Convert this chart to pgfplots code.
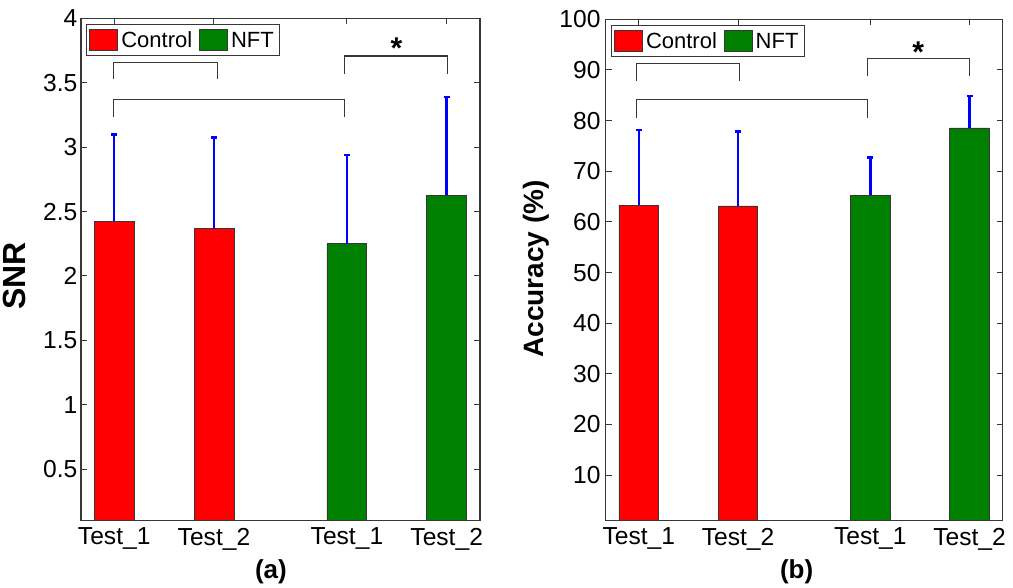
\documentclass[border=0pt]{standalone}
\usepackage{fontspec}
\setmainfont{Liberation Sans}
\usepackage{pgfplots}
\pgfplotsset{compat=1.18}
\definecolor{mred}{RGB}{255,0,0}
\definecolor{mgreen}{RGB}{0,128,0}
\definecolor{axgray}{RGB}{55,55,55}
\pgfplotsset{
  panel/.style={
    scale only axis,
    xmin=0.667, xmax=4.667,
    xtick={1,2,3.333,4.333},
    xticklabels={Test\_1,Test\_2,Test\_1,Test\_2},
    tick align=inside,
    major tick length=6pt,
    minor tick num=0,
    tick style={axgray, line width=1pt},
    axis line style={axgray, line width=1.3pt},
    /pgf/number format/assume math mode=true,
    ticklabel style={font=\fontsize{24.6}{28}\selectfont},
    xticklabel style={inner sep=0pt, yshift=-7pt},
    legend style={at={(0,1)}, anchor=north west, xshift=5pt, yshift=-6pt,
      draw=axgray, line width=1pt, inner xsep=3pt, inner ysep=4.5pt,
      font=\fontsize{22}{24}\selectfont,
      nodes={inner xsep=3pt, inner ysep=1pt},
      /tikz/every even column/.append style={column sep=4pt}},
    legend columns=2,
    legend cell align=left,
  },
  redimg/.style={legend image code/.code={\draw[fill=mred, draw=axgray, line width=0.8pt] (0pt,-10.5pt) rectangle (28pt,10.5pt);}},
  greenimg/.style={legend image code/.code={\draw[fill=mgreen, draw=axgray, line width=0.8pt] (0pt,-10.5pt) rectangle (28pt,10.5pt);}},
  barstyle/.style={ybar, bar width=0.4, bar shift=0pt, draw=axgray, line width=0.8pt, forget plot,
    error bars/y dir=plus, error bars/y explicit,
    error bars/error bar style={blue, line width=2.5pt},
    error bars/error mark options={blue, line width=2.5pt, mark size=3pt, rotate=90}},
  brk/.style={axgray, line width=1.3pt, sharp plot, no marks, forget plot},
}
\begin{document}
\begin{tikzpicture}
\path (0pt,0pt) rectangle (1013pt,-585pt);
% ---------------- panel (a)
\begin{axis}[panel,
  at={(81pt,-520.7pt)}, anchor=south west,
  width=399pt, height=502.4pt,
  ymin=0.1, ymax=4,
  ytick={0.5,1,1.5,2,2.5,3,3.5,4},
  yticklabel style={inner sep=0pt, xshift=-3.5pt},
  ylabel={SNR},
  every axis y label/.style={at={(axis description cs:-0.166,0.487)}, rotate=90, anchor=center,
    font=\bfseries\fontsize{32}{34}\selectfont},
  xlabel={(a)},
  every axis x label/.style={at={(axis description cs:0.476,-0.1015)}, anchor=center,
    font=\bfseries\fontsize{26}{28}\selectfont},
]
\addlegendimage{redimg}
\addlegendentry{Control}
\addlegendimage{greenimg}
\addlegendentry{NFT}
\addplot[barstyle, fill=mred] coordinates {(1,2.424) +- (0,0.674) (2,2.367) +- (0,0.708)};
\addplot[barstyle, fill=mgreen] coordinates {(3.333,2.250) +- (0,0.690) (4.333,2.626) +- (0,0.762)};
\addplot[brk] coordinates {(0.99,3.526) (0.99,3.657) (2.037,3.657) (2.037,3.526)};
\addplot[brk] coordinates {(3.306,3.567) (3.306,3.707) (4.338,3.707) (4.338,3.567)};
\addplot[brk] coordinates {(0.99,3.23) (0.99,3.37) (3.31,3.37) (3.31,3.23)};
\node[font=\bfseries\fontsize{30}{32}\selectfont, anchor=north, inner sep=0pt] at (axis cs:3.83,3.849) {*};
\end{axis}
% ---------------- panel (b)
\begin{axis}[panel,
  at={(605.7pt,-520.7pt)}, anchor=south west,
  width=397pt, height=501.4pt,
  ymin=1, ymax=100,
  ytick={10,20,30,40,50,60,70,80,90,100},
  yticklabel style={inner sep=0pt, xshift=-5pt},
  ylabel={Accuracy (\%)},
  every axis y label/.style={at={(axis description cs:-0.176,0.502)}, rotate=90, anchor=center,
    font=\bfseries\fontsize{28}{30}\selectfont},
  xlabel={(b)},
  every axis x label/.style={at={(axis description cs:0.481,-0.1017)}, anchor=center,
    font=\bfseries\fontsize{26}{28}\selectfont},
]
\addlegendimage{redimg}
\addlegendentry{Control}
\addlegendimage{greenimg}
\addlegendentry{NFT}
\addplot[barstyle, fill=mred] coordinates {(1,63.30) +- (0,14.85) (2,63.15) +- (0,14.65)};
\addplot[barstyle, fill=mgreen] coordinates {(3.333,65.26) +- (0,7.44) (4.333,78.55) +- (0,6.35)};
\addplot[brk] coordinates {(0.974,87.8) (0.974,91.3) (2.018,91.3) (2.018,87.8)};
\addplot[brk] coordinates {(3.302,88.8) (3.302,92.2) (4.33,92.2) (4.33,88.8)};
\addplot[brk] coordinates {(0.974,80.5) (0.974,84.2) (3.302,84.2) (3.302,80.5)};
\node[font=\bfseries\fontsize{30}{32}\selectfont, anchor=north, inner sep=0pt] at (axis cs:3.815,95.6) {*};
\end{axis}
\end{tikzpicture}
\end{document}
